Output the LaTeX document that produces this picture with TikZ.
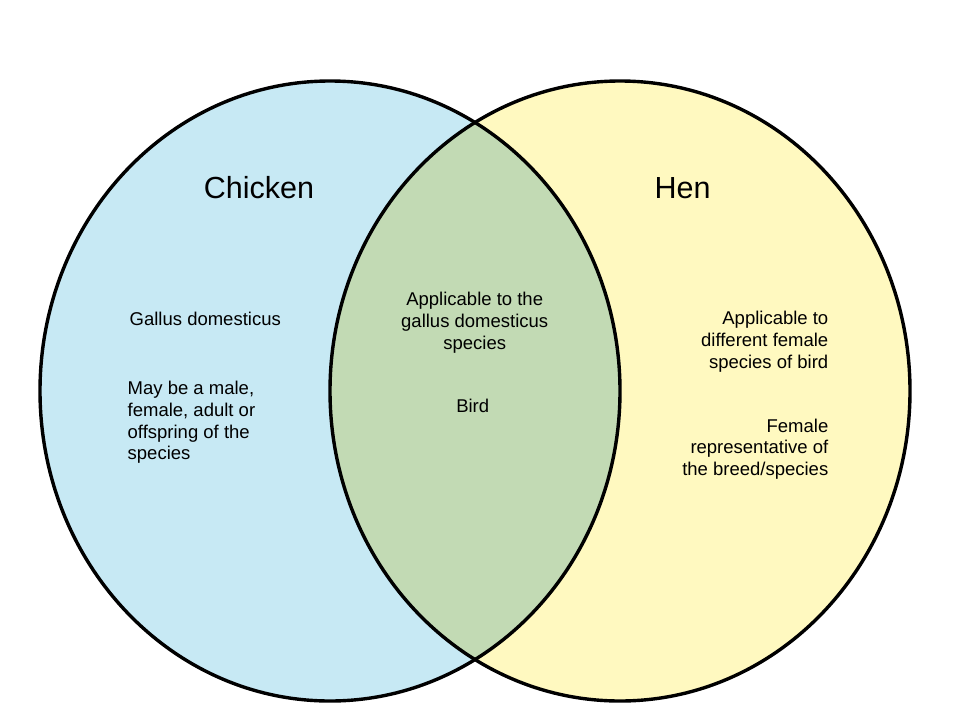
\documentclass[tikz,border=0pt]{standalone}
\usepackage{fontspec}
\setmainfont{Liberation Sans}
\usepackage{tikz}
\definecolor{chickenblue}{HTML}{C7E9F4}
\definecolor{henyellow}{HTML}{FFF9C0}
\definecolor{bothgreen}{HTML}{C2DAB4}
\tikzstyle{setname} = [inner sep=0pt,font=\fontsize{30.5}{36}\selectfont]
\tikzstyle{fact}    = [inner sep=0pt,font=\fontsize{18.5}{21.8}\selectfont]
\tikzstyle{setarea} = [x radius=290,y radius=310]

\begin{document}
\begin{tikzpicture}[x=1pt,y=-1pt,line width=3.4pt]
\useasboundingbox (0,0) rectangle (960,720);

\coordinate (C) at (330,391);
\coordinate (H) at (620,391);

\fill[chickenblue] (C) ellipse [setarea];
\fill[henyellow]   (H) ellipse [setarea];
\begin{scope}
    \clip (C) ellipse [setarea];
    \fill[bothgreen] (H) ellipse [setarea];
\end{scope}
\draw (C) ellipse [setarea];
\draw (H) ellipse [setarea];

\node[setname,anchor=base] (chicken) at (259,198.3) {Chicken};
\node[setname,anchor=base] (hen)     at (682.5,198.3) {Hen};

% base of a multi-line node = baseline of its last line
\node[fact,anchor=base west] (latin) at (128,325.7) {Gallus domesticus};
\node[fact,anchor=base west,align=left] (anysex) at (126,459.8)
    {May be a male,\\female, adult or\\offspring of the\\species};
\node[fact,anchor=base,align=center] (applies) at (474.7,349.4)
    {Applicable to the\\gallus domesticus\\species};
\node[fact,anchor=base] (bird) at (472.7,412.7) {Bird};
\node[fact,anchor=base east,align=right] (anyfemale) at (830,368.4)
    {Applicable to\\different female\\species of bird};
\node[fact,anchor=base east,align=right] (breed) at (830,475.7)
    {Female\\representative of\\the breed/species};

\end{tikzpicture}
\end{document}
